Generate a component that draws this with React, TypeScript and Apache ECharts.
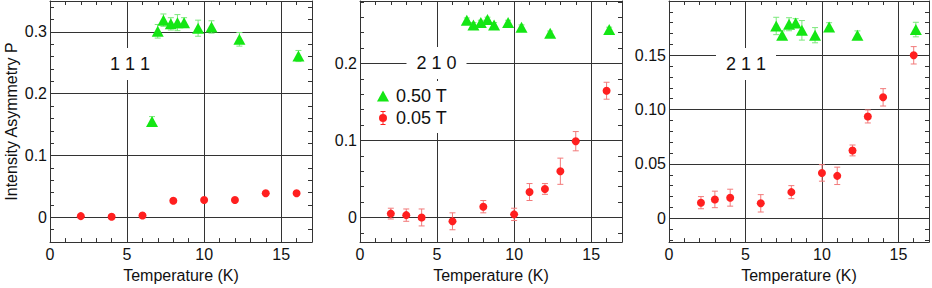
import React, { useEffect, useRef } from "react";
import * as echarts from "echarts";

const FONT = "'Liberation Sans', Arial, Helvetica, sans-serif";

// ---- tick labels ----
const xTickLabels = ["0", "5", "10", "15"];
const yTickLabels111 = ["0", "0.1", "0.2", "0.3"];
const yTickLabels210 = ["0", "0.1", "0.2"];
const yTickLabels211 = ["0", "0.05", "0.10", "0.15"];

// ---- panel labels / legend ----
const panelNames = ["1 1 1", "2 1 0", "2 1 1"];
const fieldLow = "0.05 T";
const fieldHigh = "0.50 T";

// ---- 111 ----
const t111Low = [2, 4, 6, 8, 10, 12, 14, 16];
const p111Low = [0.002, 0.001, 0.003, 0.027, 0.028, 0.028, 0.039, 0.039];
const e111Low = [0.003, 0.003, 0.003, 0.003, 0.003, 0.003, 0.003, 0.003];
const t111High = [6.62, 6.99, 7.36, 7.84, 8.27, 8.7, 9.61, 10.48, 12.29, 16.12];
const p111High = [0.155, 0.301, 0.319, 0.313, 0.315, 0.315, 0.306, 0.308, 0.288, 0.261];
const e111High = [0.008, 0.011, 0.01, 0.01, 0.013, 0.008, 0.013, 0.01, 0.011, 0.009];

// ---- 210 ----
const t210Low = [2, 3, 4, 6, 8, 10, 11, 12, 13, 14, 16];
const p210Low = [0.005, 0.003, 0.0, -0.005, 0.014, 0.004, 0.033, 0.037, 0.06, 0.099, 0.1645];
const e210Low = [0.007, 0.008, 0.011, 0.011, 0.008, 0.008, 0.011, 0.007, 0.017, 0.0125, 0.011];
const t210High = [6.93, 7.36, 7.84, 8.27, 8.7, 9.61, 10.48, 12.34, 16.17];
const p210High = [0.256, 0.25, 0.253, 0.257, 0.25, 0.253, 0.247, 0.239, 0.244];
const e210High = [0.003, 0.003, 0.003, 0.003, 0.003, 0.003, 0.003, 0.003, 0.003];

// ---- 211 ----
const t211Low = [2.09, 3, 4, 6, 8, 10, 11, 12, 13, 14, 16];
const p211Low = [0.0143, 0.0173, 0.0189, 0.0137, 0.024, 0.0417, 0.039, 0.0624, 0.0937, 0.1113, 0.15];
const e211Low = [0.0056, 0.0076, 0.0078, 0.008, 0.006, 0.0076, 0.008, 0.005, 0.006, 0.008, 0.008];
const t211High = [7.01, 7.4, 7.85, 8.28, 8.69, 9.55, 10.47, 12.32, 16.14];
const p211High = [0.177, 0.1685, 0.1786, 0.1797, 0.173, 0.1685, 0.176, 0.1685, 0.1737];
const e211High = [0.008, 0.004, 0.006, 0.004, 0.009, 0.007, 0.004, 0.004, 0.0067];

const GREEN = "#14e614";
const GREEN_ERR = "#7be87b";
const RED = "#ff1f1f";
const RED_ERR = "#f27a7a";
const INK = "#111";
const LINE = "#333";

const panels = [
  {
    left: 50, yMin: -0.04, yMax: 0.35, yStep: 0.1, yLabels: yTickLabels111,
    low: [t111Low, p111Low, e111Low], high: [t111High, p111High, e111High],
    label: { x: 130, y: 64 },
  },
  {
    left: 360, yMin: -0.032, yMax: 0.281, yStep: 0.1, yLabels: yTickLabels210,
    low: [t210Low, p210Low, e210Low], high: [t210High, p210High, e210High],
    label: { x: 436.5, y: 63 },
  },
  {
    left: 669, yMin: -0.022, yMax: 0.2, yStep: 0.05, yLabels: yTickLabels211,
    low: [t211Low, p211Low, e211Low], high: [t211High, p211High, e211High],
    label: { x: 746, y: 64 },
  },
];

const fmt = (labels: string[]) => (v: number) => {
  const hit = labels.find((l) => Math.abs(parseFloat(l) - v) < 1e-9);
  return hit === undefined ? "" : hit;
};

const errRender = (color: string) => (params: any, api: any) => {
  const x = api.value(0);
  const p1 = api.coord([x, api.value(1)]);
  const p2 = api.coord([x, api.value(2)]);
  const cw = 3;
  const style = { stroke: color, lineWidth: 1 };
  return {
    type: "group",
    children: [
      { type: "line", shape: { x1: p1[0], y1: p1[1], x2: p2[0], y2: p2[1] }, style },
      { type: "line", shape: { x1: p1[0] - cw, y1: p1[1], x2: p1[0] + cw, y2: p1[1] }, style },
      { type: "line", shape: { x1: p2[0] - cw, y1: p2[1], x2: p2[0] + cw, y2: p2[1] }, style },
    ],
  };
};

const GREEN_ICON = "path://M0,0 M16,16 M8,2.5 L14,13.5 L2,13.5 Z";
const RED_ICON =
  "path://M0,0 M16,16 M4,8 A4,4 0 1,0 12,8 A4,4 0 1,0 4,8 Z M7.5,1.5 L8.5,1.5 L8.5,4 L7.5,4 Z M7.5,12 L8.5,12 L8.5,14.5 L7.5,14.5 Z M5.5,1 L10.5,1 L10.5,2 L5.5,2 Z M5.5,14 L10.5,14 L10.5,15 L5.5,15 Z";

function buildOption() {
  const grid: any[] = [];
  const xAxis: any[] = [];
  const yAxis: any[] = [];
  const series: any[] = [];

  panels.forEach((p, i) => {
    grid.push({ left: p.left, top: 1, width: 262, height: 243 });
  });

  const axisBase = {
    axisLine: { show: true, onZero: false, lineStyle: { color: LINE, width: 1 } },
    axisTick: { show: true, inside: true, length: 5, lineStyle: { color: LINE } },
    minorTick: { show: true, splitNumber: 5, length: 4, lineStyle: { color: LINE } },
  };

  // main axes
  panels.forEach((p, i) => {
    xAxis.push({
      type: "value", gridIndex: i, position: "bottom", min: 0, max: 17,
      minInterval: 5, maxInterval: 5,
      ...axisBase,
      splitLine: { show: true, showMinLine: false, showMaxLine: false, lineStyle: { color: LINE, width: 1 } },
      axisLabel: { formatter: fmt(xTickLabels), fontSize: 16, color: INK, margin: 4, fontFamily: FONT },
      name: "Temperature (K)", nameLocation: "middle", nameGap: 22,
      nameTextStyle: { fontSize: 16, color: INK, fontFamily: FONT },
    });
    yAxis.push({
      type: "value", gridIndex: i, position: "left", min: p.yMin, max: p.yMax,
      minInterval: p.yStep, maxInterval: p.yStep,
      ...axisBase,
      splitLine: { show: true, showMinLine: false, showMaxLine: false, lineStyle: { color: LINE, width: 1 } },
      axisLabel: { formatter: fmt(p.yLabels), fontSize: 16, color: INK, margin: 3, fontFamily: FONT },
      ...(i === 0
        ? {
            name: "Intensity Asymmetry P", nameLocation: "middle", nameGap: 31,
            nameTextStyle: { fontSize: 16, color: INK, fontFamily: FONT },
          }
        : {}),
    });
  });
  // mirror axes
  panels.forEach((p, i) => {
    xAxis.push({
      type: "value", gridIndex: i, position: "top", min: 0, max: 17,
      minInterval: 5, maxInterval: 5, ...axisBase,
      splitLine: { show: false }, axisLabel: { show: false },
    });
    yAxis.push({
      type: "value", gridIndex: i, position: "right", min: p.yMin, max: p.yMax,
      minInterval: p.yStep, maxInterval: p.yStep, ...axisBase,
      splitLine: { show: false }, axisLabel: { show: false },
    });
  });

  panels.forEach((p, i) => {
    const [tl, pl, el] = p.low;
    const [th, ph, eh] = p.high;
    series.push({
      type: "custom", name: "errHigh" + i, xAxisIndex: i, yAxisIndex: i, z: 2,
      renderItem: errRender(GREEN_ERR),
      data: th.map((t, k) => [t, ph[k] - eh[k], ph[k] + eh[k]]),
      encode: { x: 0, y: [1, 2] },
    });
    series.push({
      type: "custom", name: "errLow" + i, xAxisIndex: i, yAxisIndex: i, z: 2,
      renderItem: errRender(RED_ERR),
      data: tl.map((t, k) => [t, pl[k] - el[k], pl[k] + el[k]]),
      encode: { x: 0, y: [1, 2] },
    });
    series.push({
      type: "scatter", name: fieldHigh, xAxisIndex: i, yAxisIndex: i, z: 3,
      symbol: "triangle", symbolSize: [12, 11],
      itemStyle: { color: GREEN, opacity: 1 },
      data: th.map((t, k) => [t, ph[k]]),
    });
    series.push({
      type: "scatter", name: fieldLow, xAxisIndex: i, yAxisIndex: i, z: 3,
      symbol: "circle", symbolSize: 8,
      itemStyle: { color: RED, opacity: 1 },
      data: tl.map((t, k) => [t, pl[k]]),
    });
  });

  const graphic = panels.map((p, i) => ({
    type: "text", x: p.label.x, y: p.label.y, z: 1,
    style: {
      text: panelNames[i], fontSize: 18, fill: INK, fontFamily: FONT,
      align: "center", verticalAlign: "middle",
      backgroundColor: "#fff", padding: [7, 10],
    },
  }));

  return {
    animation: false,
    backgroundColor: "#fff",
    textStyle: { fontFamily: FONT },
    grid, xAxis, yAxis, series, graphic,
    legend: {
      orient: "vertical", left: 369, top: 81, padding: 6, itemGap: 4,
      itemWidth: 16, itemHeight: 16, backgroundColor: "#fff",
      selectedMode: false,
      textStyle: { fontSize: 18, color: INK, fontFamily: FONT },
      data: [
        { name: fieldHigh, icon: GREEN_ICON },
        { name: fieldLow, icon: RED_ICON },
      ],
    },
  };
}

export default function App() {
  const ref = useRef<HTMLDivElement>(null);
  useEffect(() => {
    if (!ref.current) return;
    const chart = echarts.init(ref.current, undefined, { renderer: "svg" });
    chart.setOption(buildOption() as any);
    return () => chart.dispose();
  }, []);
  return (
    <div
      ref={ref}
      style={{ position: "fixed", left: 0, top: 0, width: 932, height: 288, background: "#fff" }}
    />
  );
}
